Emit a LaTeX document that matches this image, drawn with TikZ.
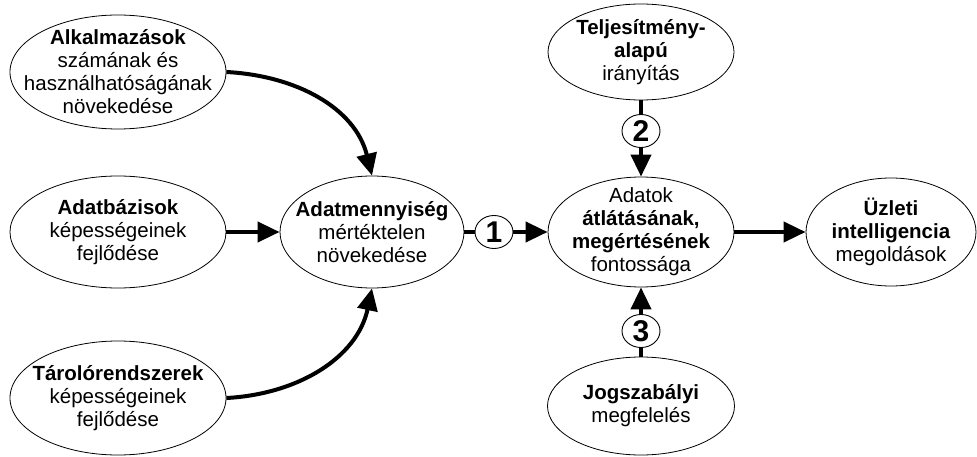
\documentclass[tikz,border=0pt]{standalone}
\usepackage{fontspec}
\setmainfont{Liberation Sans}
\usetikzlibrary{shapes.geometric,arrows.meta,positioning}
\tikzset{
  blob/.style={draw, ellipse, line width=0.8pt, inner sep=-24pt, align=center,
    font=\fontsize{20.5}{23}\selectfont},
  num/.style={draw, ellipse, line width=0.9pt, inner sep=-12pt,
    minimum width=38pt, minimum height=33pt, font=\fontsize{30}{30}\selectfont\bfseries},
  arr/.style={line width=4pt, -{Triangle[length=22pt,width=20pt]}},
  lnk/.style={line width=4pt},
}

\begin{document}
\begin{tikzpicture}[x=1pt, y=1pt]
      \useasboundingbox (0,0) rectangle (977,-457);
      \def\my{-232}
      % Sources
      \node[blob, minimum width=216pt, minimum height=114pt] (alk) at (118,-72)
        {\textbf{Alkalmazások}\\számának és\\használhatóságának\\növekedése};
      \node[blob, minimum width=216pt, minimum height=112pt] (dbase) at (118,\my)
        {\textbf{Adatbázisok}\\képességeinek\\fejlődése};
      \node[blob, minimum width=216pt, minimum height=114pt] (tarolo) at (118,-398)
        {\textbf{Tárolórendszerek}\\képességeinek\\fejlődése};
      % Centre
      \node[blob, minimum width=184pt, minimum height=112pt] (menny) at (372,\my)
        {\textbf{Adatmennyiség}\\mértéktelen\\növekedése};
      \node[blob, minimum width=186pt, minimum height=110pt] (adatok) at (641,\my)
        {Adatok\\\textbf{átlátásának,}\\\textbf{megértésének}\\fontossága};
      \node[blob, minimum width=170pt, minimum height=108pt] (uzleti) at (891,\my)
        {\textbf{Üzleti}\\\textbf{intelligencia}\\megoldások};
      \node[blob, minimum width=186pt, minimum height=96pt] (telj) at (641,-52)
        {\textbf{Teljesítmény-}\\\textbf{alapú}\\irányítás};
      \node[blob, minimum width=187pt, minimum height=98pt] (jog) at (641,-406)
        {\textbf{Jogszabályi}\\megfelelés};
      % Numbers
      \node[num] (c1) at (494,\my) {1};
      \node[num] (c2) at (641,-131) {2};
      \node[num] (c3) at (641,-331) {3};
      % Arrows
      \draw[arr] (alk.east) to[out=-3, in=104] (menny.north);
      \draw[arr] (dbase) -- (menny);
      \draw[arr] (tarolo.east) to[out=3, in=-102] (menny.south);
      \draw[lnk] (menny) -- (c1);
      \draw[arr] (c1) -- (adatok);
      \draw[lnk] (telj) -- (c2);
      \draw[arr] (c2) -- (adatok);
      \draw[lnk] (jog) -- (c3);
      \draw[arr] (c3) -- (adatok);
      \draw[arr] (adatok) -- (uzleti);
\end{tikzpicture}
\end{document}
